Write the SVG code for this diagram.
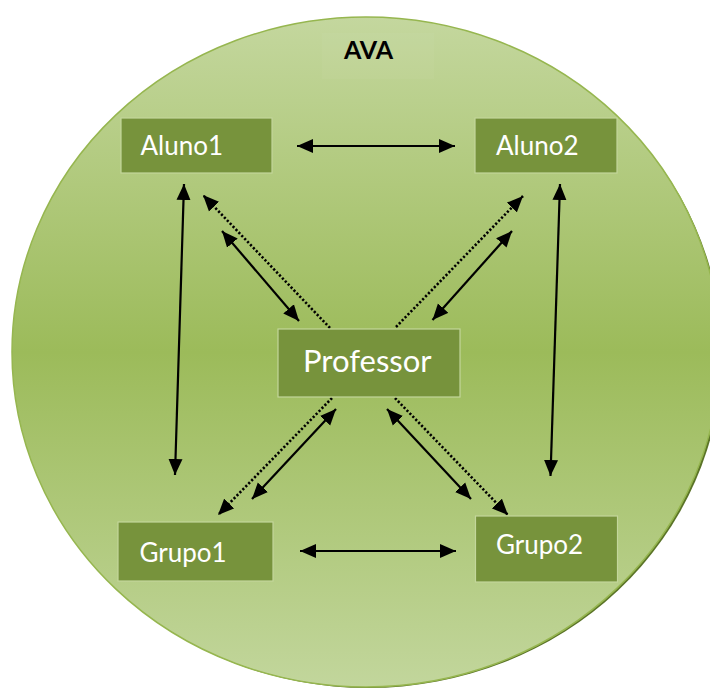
<svg xmlns="http://www.w3.org/2000/svg" width="710" height="688" viewBox="0 0 710 688">
  <style>
    .box { fill: #77933c; stroke: #c3d69b; stroke-width: 1.2; }
    .lbl { font-family: Lato, "Open Sans", "Liberation Sans", sans-serif; fill: #ffffff; }
    .conn { stroke: #000000; stroke-width: 2.2; fill: none; }
    .dot { stroke: #000000; stroke-width: 2.6; fill: none; stroke-dasharray: 2.2 2; }
  </style>
  <defs>
    <linearGradient id="bg" x1="0" y1="0" x2="0" y2="1">
      <stop offset="0" stop-color="#c4d79e"/>
      <stop offset="0.5" stop-color="#9cbb5a"/>
      <stop offset="1" stop-color="#c2d69c"/>
    </linearGradient>
    <marker id="ah" markerUnits="userSpaceOnUse" markerWidth="17" markerHeight="15" refX="16" refY="7" orient="auto-start-reverse" viewBox="0 0 17 14">
      <path d="M0,0 L16,7 L0,14 z" fill="#000"/>
    </marker>
  </defs>

  <g id="ava">
    <ellipse cx="368" cy="354" rx="354" ry="334" fill="#5a7327"/>
    <ellipse cx="366" cy="352" rx="354" ry="335" fill="url(#bg)" stroke="#96b64f" stroke-width="1.5"/>
    <rect x="322" y="33" width="112" height="46" fill="#ffffff" fill-opacity="0.03"/>
    <text x="368.5" y="58.5" text-anchor="middle" font-family="Lato, 'Liberation Sans', sans-serif" font-weight="bold" font-size="25" fill="#000">AVA</text>
  </g>

  <g id="connectors">
    <line class="conn" x1="297" y1="146" x2="455" y2="146" marker-start="url(#ah)" marker-end="url(#ah)"/>
    <line class="conn" x1="300" y1="551" x2="456" y2="551" marker-start="url(#ah)" marker-end="url(#ah)"/>
    <line class="conn" x1="184" y1="184" x2="175" y2="475" marker-start="url(#ah)" marker-end="url(#ah)"/>
    <line class="conn" x1="560" y1="184" x2="550.5" y2="476" marker-start="url(#ah)" marker-end="url(#ah)"/>
    <line class="conn" x1="222" y1="231" x2="299" y2="321" marker-start="url(#ah)" marker-end="url(#ah)"/>
    <line class="conn" x1="512" y1="231" x2="432.5" y2="320" marker-start="url(#ah)" marker-end="url(#ah)"/>
    <line class="conn" x1="336" y1="409" x2="252" y2="499" marker-start="url(#ah)" marker-end="url(#ah)"/>
    <line class="conn" x1="387" y1="409" x2="471" y2="499" marker-start="url(#ah)" marker-end="url(#ah)"/>
    <line class="dot" x1="330" y1="328" x2="203" y2="195" marker-end="url(#ah)"/>
    <line class="dot" x1="396" y1="327" x2="523" y2="196" marker-end="url(#ah)"/>
    <line class="dot" x1="332" y1="398" x2="218" y2="515" marker-end="url(#ah)"/>
    <line class="dot" x1="395" y1="398" x2="508" y2="515" marker-end="url(#ah)"/>
  </g>

  <g id="aluno1">
    <rect class="box" x="121" y="118" width="151" height="55"/>
    <text class="lbl" x="140.5" y="154.5" font-size="26">Aluno1</text>
  </g>
  <g id="aluno2">
    <rect class="box" x="475" y="118" width="142" height="55"/>
    <text class="lbl" x="496" y="154.5" font-size="26">Aluno2</text>
  </g>
  <g id="professor">
    <rect class="box" x="278" y="329" width="182" height="68"/>
    <text class="lbl" x="303" y="372" font-size="31">Professor</text>
  </g>
  <g id="grupo1">
    <rect class="box" x="118" y="522" width="155" height="59"/>
    <text class="lbl" x="139.5" y="561.5" font-size="26">Grupo1</text>
  </g>
  <g id="grupo2">
    <rect class="box" x="475.5" y="516" width="142" height="66"/>
    <text class="lbl" x="496" y="553.5" font-size="26">Grupo2</text>
  </g>
</svg>
